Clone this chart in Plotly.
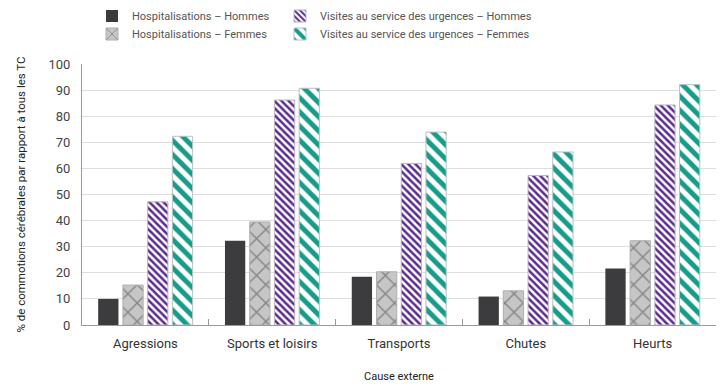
import plotly.graph_objects as go

categories = ["Agressions", "Sports et loisirs", "Transports", "Chutes", "Heurts"]
hosp_hommes = [10, 32.3, 18.5, 10.9, 21.6]
hosp_femmes = [15.3, 39.5, 20.4, 13.1, 32.3]
urg_hommes = [47.2, 86.2, 61.9, 57.3, 84.3]
urg_femmes = [72.3, 90.7, 73.9, 66.3, 92.1]

names = ["Hospitalisations – Hommes", "Hospitalisations – Femmes",
         "Visites au service des urgences – Hommes", "Visites au service des urgences – Femmes"]

FONT = "Roboto"
fig = go.Figure()
fig.add_bar(x=categories, y=hosp_hommes, name=names[0], legend="legend", showlegend=True,
            marker=dict(color="#3c3c3e", line=dict(color="#3c3c3e", width=0)))
fig.add_bar(x=categories, y=hosp_femmes, name=names[1], legend="legend2", showlegend=True,
            marker=dict(color="#c2c2c2", line=dict(color="#b0b0b0", width=1),
                        pattern=dict(shape="x", fgcolor="#858585", bgcolor="#c6c6c6", size=13,
                                     solidity=0.2, fgopacity=1)))
fig.add_bar(x=categories, y=urg_hommes, name=names[2], legend="legend3", showlegend=True,
            marker=dict(color="white", line=dict(color="#bdb6c4", width=1),
                        pattern=dict(shape="\\", fgcolor="#5a2a8e", bgcolor="white", size=5,
                                     solidity=0.5, fgopacity=1)))
fig.add_bar(x=categories, y=urg_femmes, name=names[3], legend="legend4", showlegend=True,
            marker=dict(color="white", line=dict(color="#b8c4c2", width=1),
                        pattern=dict(shape="\\", fgcolor="#179c8c", bgcolor="white", size=10,
                                     solidity=0.5, fgopacity=1)))

PL, PR, PT, PB = 82, 716, 64, 325
def px_x(px):
    return (px - PL) / (PR - PL)
def px_y(py):
    return (PB - py) / (PB - PT)

def leg(xpx, ycpx):
    return dict(x=px_x(xpx), y=px_y(ycpx), xanchor="left", yanchor="middle",
                orientation="v", font=dict(size=11, color="#555555"), tracegroupgap=0,
                itemwidth=30, bgcolor="rgba(0,0,0,0)", borderwidth=0, visible=True)

fig.update_layout(
    width=728, height=391, showlegend=True,
    margin=dict(l=PL, r=728 - PR, t=PT, b=391 - PB, autoexpand=False),
    plot_bgcolor="white", paper_bgcolor="white",
    font=dict(family=FONT, color="#333333", size=12),
    barmode="group", bargap=0.22, bargroupgap=0.18,
    legend=leg(92, 16), legend2=leg(92, 34), legend3=leg(280, 16), legend4=leg(280, 34),
    xaxis=dict(showline=True, linecolor="#9a9a9a", linewidth=1, ticks="inside", tickson="boundaries",
               ticklen=6, tickcolor="#9a9a9a", tickfont=dict(size=13, color="#333333"), tickangle=0,
               ticklabelstandoff=6,
               title=dict(text="Cause externe", font=dict(size=11, color="#222222"), standoff=22)),
    yaxis=dict(range=[0, 100], dtick=10, showline=True, linecolor="#9a9a9a", linewidth=1,
               gridcolor="#dedede", gridwidth=1, zeroline=False, ticks="", ticklen=3,
               tickfont=dict(size=13, color="#444444"), ticklabelstandoff=8,
               title=dict(text="% de commotions cérébrales par rapport à tous les TC",
                          font=dict(size=11.5, color="#222222"), standoff=20)),
)

fig.write_html("out.html")
